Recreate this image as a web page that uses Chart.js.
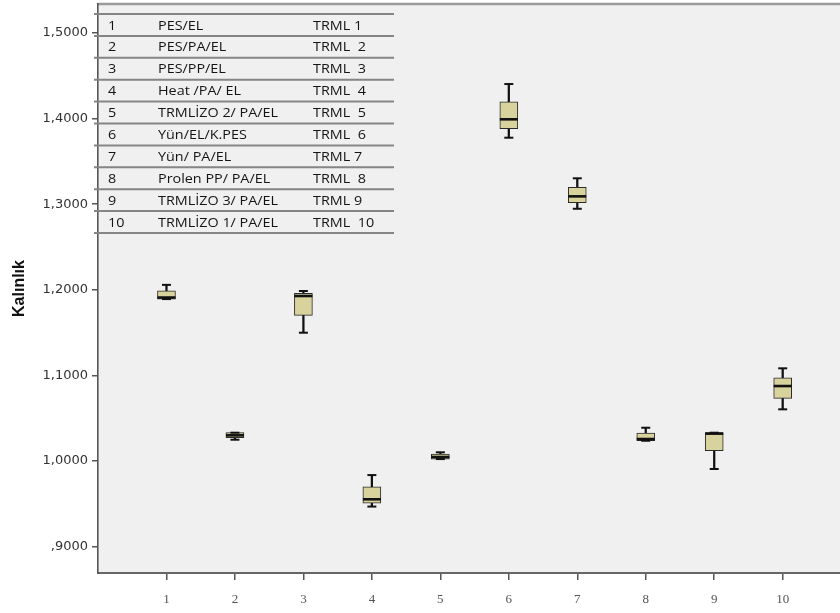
<!DOCTYPE html>
<html>
<head>
<meta charset="utf-8">
<script src="https://cdn.jsdelivr.net/npm/chart.js@4.4.1/dist/chart.umd.min.js"></script>
<style>
  html, body { margin: 0; padding: 0; background: #ffffff; }
  #wrap { width: 840px; height: 613px; }
</style>
</head>
<body>
<div id="wrap"><canvas id="c" width="840" height="613"></canvas></div>
<script>
// ---- data ----
const categories = ['1', '2', '3', '4', '5', '6', '7', '8', '9', '10'];
const whiskerLow  = [1.1892, 1.0249, 1.1499, 0.9468, 1.0023, 1.3777, 1.2947, 1.0237, 0.9907, 1.0604];
const quartile1   = [1.1892, 1.0273, 1.1702, 0.9507, 1.0023, 1.3882, 1.3018, 1.0237, 1.0120, 1.0732];
const medians     = [1.1910, 1.0300, 1.1928, 0.9553, 1.0047, 1.3992, 1.3092, 1.0257, 1.0320, 1.0876];
const quartile3   = [1.1988, 1.0331, 1.1959, 0.9700, 1.0082, 1.4197, 1.3197, 1.0327, 1.0331, 1.0973];
const whiskerHigh = [1.2058, 1.0331, 1.1986, 0.9836, 1.0102, 1.4404, 1.3303, 1.0389, 1.0331, 1.1083];

const yTickValues = [0.9, 1.0, 1.1, 1.2, 1.3, 1.4, 1.5];
const yTickLabels = [',9000', '1,0000', '1,1000', '1,2000', '1,3000', '1,4000', '1,5000'];
const yTitle = 'Kalınlık';

const tableNumbers = ['1', '2', '3', '4', '5', '6', '7', '8', '9', '10'];
const tableNames = ['PES/EL', 'PES/PA/EL', 'PES/PP/EL', 'Heat /PA/ EL', 'TRMLİZO 2/ PA/EL',
                    'Yün/EL/K.PES', 'Yün/ PA/EL', 'Prolen PP/ PA/EL', 'TRMLİZO 3/ PA/EL', 'TRMLİZO 1/ PA/EL'];
const tableCodes = ['TRML 1', 'TRML  2', 'TRML  3', 'TRML  4', 'TRML  5',
                    'TRML  6', 'TRML 7', 'TRML  8', 'TRML 9', 'TRML  10'];

// ---- build datasets ----
const xs = categories.map(c => Number(c));
const whiskerData = xs.map((x, i) => ({ x: x, y: [whiskerLow[i], whiskerHigh[i]] }));
const boxData = xs.map((x, i) => ({ x: x, y: [quartile1[i], quartile3[i]] }));
const medianData = xs.map((x, i) => ({ x: x, y: medians[i] }));
const capData = [];
xs.forEach((x, i) => {
  capData.push({ x: x, y: whiskerLow[i] });
  capData.push({ x: x, y: whiskerHigh[i] });
});

// force the plot area to the reference frame (top 4, right edge of the canvas)
const areaPlugin = {
  id: 'areaPlugin',
  afterLayout(chart) {
    const ca = chart.chartArea;
    const ys = chart.scales.y, xsc = chart.scales.x;
    const top = 4, right = chart.width;
    ca.top = top; ca.right = right;
    ca.width = ca.right - ca.left; ca.height = ca.bottom - ca.top;
    ys.top = top; ys.height = ys.bottom - ys.top; ys.configure();
    xsc.right = right; xsc.width = xsc.right - xsc.left; xsc.configure();
  }
};

const bgPlugin = {
  id: 'bgPlugin',
  beforeDraw(chart) {
    const ctx = chart.ctx, ca = chart.chartArea;
    ctx.save();
    ctx.fillStyle = '#ffffff';
    ctx.fillRect(0, 0, chart.width, chart.height);
    ctx.fillStyle = '#f0f0f0';
    ctx.fillRect(ca.left, ca.top, ca.right - ca.left, ca.bottom - ca.top);
    ctx.strokeStyle = '#9a9a9a';
    ctx.lineWidth = 2.5;
    ctx.beginPath();
    ctx.moveTo(ca.left, ca.top);
    ctx.lineTo(ca.right, ca.top);
    ctx.stroke();
    ctx.restore();
  }
};

const tablePlugin = {
  id: 'tablePlugin',
  beforeDatasetsDraw(chart) {
    const ctx = chart.ctx, ca = chart.chartArea;
    const x0 = ca.left - 4, x1 = ca.left + 296;
    const top = 14, rowH = 21.9;
    ctx.save();
    ctx.strokeStyle = '#858585';
    ctx.lineWidth = 2;
    for (let k = 0; k <= tableNumbers.length; k++) {
      const y = top + k * rowH;
      ctx.beginPath();
      ctx.moveTo(x0, y);
      ctx.lineTo(x1, y);
      ctx.stroke();
    }
    ctx.fillStyle = '#141414';
    ctx.font = '12.5px "Open Sans"';
    ctx.textBaseline = 'middle';
    ctx.textAlign = 'left';
    const sx = 1.15;
    for (let k = 0; k < tableNumbers.length; k++) {
      const y = top + (k + 0.5) * rowH + 1;
      const cols = [[tableNumbers[k], ca.left + 10], [tableNames[k], ca.left + 60], [tableCodes[k], ca.left + 215]];
      cols.forEach(([t, x]) => {
        ctx.save();
        ctx.translate(x, y);
        ctx.scale(sx, 1);
        ctx.fillText(t, 0, 0);
        ctx.restore();
      });
    }
    ctx.restore();
  }
};

new Chart(document.getElementById('c'), {
  type: 'bar',
  data: {
    datasets: [
      {
        type: 'bar', label: 'whisker', data: whiskerData, order: 4,
        backgroundColor: '#111111', borderWidth: 0, barThickness: 1.6, grouped: false
      },
      {
        type: 'bar', label: 'box', data: boxData, order: 3,
        backgroundColor: '#d8d29c', borderColor: '#2a2a2a', borderWidth: 1,
        borderSkipped: false, barThickness: 18, grouped: false
      },
      {
        type: 'scatter', label: 'median', data: medianData, order: 2,
        pointStyle: 'line', pointRadius: 9, borderColor: '#111111', borderWidth: 2.6,
        pointHoverRadius: 9
      },
      {
        type: 'scatter', label: 'caps', data: capData, order: 1,
        pointStyle: 'line', pointRadius: 4.5, borderColor: '#111111', borderWidth: 2,
        pointHoverRadius: 4.5
      }
    ]
  },
  options: {
    responsive: false,
    animation: false,
    layout: { padding: { top: 4, right: 0, left: 0, bottom: 0 } },
    plugins: { legend: { display: false }, tooltip: { enabled: false } },
    scales: {
      x: {
        type: 'linear',
        min: 0,
        max: 10.837,
        offset: false,
        grid: { display: true, drawOnChartArea: false, drawTicks: true, tickLength: 7, color: '#555555', lineWidth: 1.5, offset: false },
        border: { display: true, color: '#666666', width: 2 },
        afterBuildTicks(scale) { scale.ticks = xs.map(v => ({ value: v })); },
        afterFit(scale) { scale.height = 40; },
        ticks: {
          autoSkip: false, maxRotation: 0, padding: 12,
          color: '#555555',
          font: { family: '"Liberation Serif"', size: 13 },
          callback(value) { const i = xs.indexOf(value); return i >= 0 ? categories[i] : ''; }
        }
      },
      y: {
        type: 'linear',
        min: 0.8692,
        max: 1.5339,
        grid: { display: true, drawOnChartArea: false, drawTicks: true, tickLength: 6, color: '#555555', lineWidth: 1.5 },
        border: { display: true, color: '#555555', width: 1.6 },
        afterBuildTicks(scale) { scale.ticks = yTickValues.map(v => ({ value: v })); },
        afterFit(scale) { scale.width = 98; },
        title: {
          display: true, text: yTitle, color: '#111111',
          font: { family: '"Liberation Sans"', size: 16, weight: 'bold' },
          padding: { top: 10, bottom: 0 }
        },
        ticks: {
          autoSkip: false, padding: 4,
          color: '#333333',
          font: { family: '"DejaVu Sans"', size: 13 },
          callback(value) { const i = yTickValues.findIndex(v => Math.abs(v - value) < 1e-6); return i >= 0 ? yTickLabels[i] : ''; }
        }
      }
    }
  },
  plugins: [areaPlugin, bgPlugin, tablePlugin]
});
</script>
</body>
</html>
